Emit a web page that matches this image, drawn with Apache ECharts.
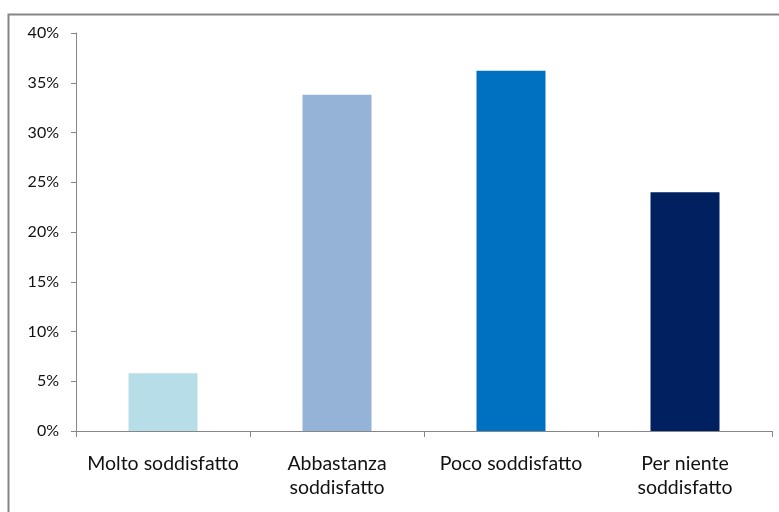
<!DOCTYPE html>
<html><head><meta charset="utf-8">
<script src="https://cdn.jsdelivr.net/npm/echarts@6/dist/echarts.min.js"></script>
<style>html,body{margin:0;padding:0;background:#fff}#c{width:779px;height:512px}</style>
</head><body><div id="c"></div>
<script>
const categories = ['Molto soddisfatto', 'Abbastanza\nsoddisfatto', 'Poco soddisfatto', 'Per niente\nsoddisfatto'];
const values = [5.8, 33.8, 36.2, 24.0];
const barColors = ['#B7DDE8', '#95B3D7', '#0070C0', '#002060'];
const yTicks = [0, 5, 10, 15, 20, 25, 30, 35, 40];

const chart = echarts.init(document.getElementById('c'));
chart.setOption({
  animation: false,
  graphic: [{
    type: 'rect', shape: { x: 8.5, y: 14.5, width: 800, height: 600 },
    style: { fill: 'none', stroke: '#868686', lineWidth: 2 }, silent: true
  }],
  grid: { left: 76, right: 7, top: 33, bottom: 81 },
  xAxis: {
    type: 'category', data: categories,
    axisLine: { lineStyle: { color: '#868686', width: 1 } },
    axisTick: { show: true, length: 6, alignWithLabel: false, lineStyle: { color: '#868686' } },
    axisLabel: { color: '#111', fontFamily: 'Lato', fontSize: 19.5, margin: 21, lineHeight: 24, interval: 0 }
  },
  yAxis: {
    type: 'value', min: 0, max: 40, interval: 5,
    axisLine: { show: true, lineStyle: { color: '#868686', width: 1 } },
    axisTick: { show: true, length: 5, lineStyle: { color: '#868686' } },
    splitLine: { show: false },
    axisLabel: { color: '#111', fontFamily: 'Lato', fontSize: 16, margin: 17,
      formatter: v => yTicks.includes(v) ? v + '%' : '' }
  },
  series: [{
    type: 'bar', barWidth: 69,
    data: values.map((v, i) => ({ value: v, itemStyle: { color: barColors[i] } }))
  }]
});
</script></body></html>
